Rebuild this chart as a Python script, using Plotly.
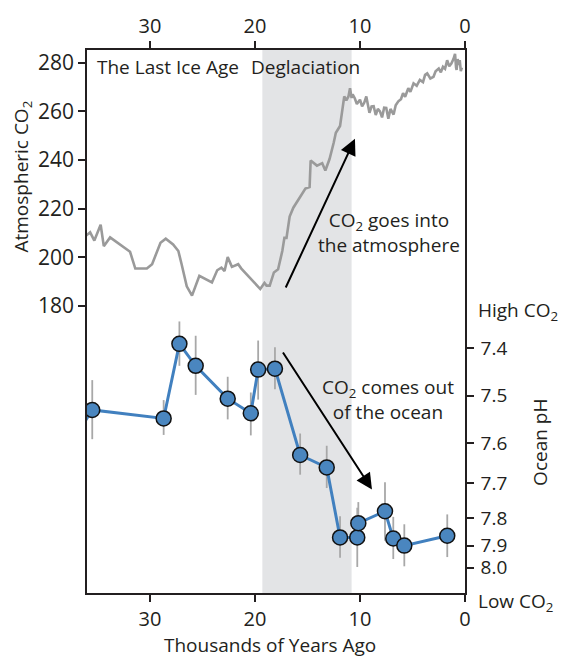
import numpy as np
import plotly.graph_objects as go

# ---------------- data ----------------
# Atmospheric CO2 record (thousands of years ago, ppm)
CO2_AGE = [36.1, 35.7, 35.3, 34.7, 34.4, 33.8, 31.9, 31.4, 30.3, 29.8, 29.0, 28.5, 27.8, 27.3,
           27.0, 26.5, 26.0, 25.3, 24.1, 23.6, 23.2, 22.9, 22.6, 22.2, 21.6, 21.3, 19.5, 19.1,
           18.9, 18.6, 18.2, 17.8, 17.4, 17.2, 17.0, 16.7, 16.35, 15.7, 15.2, 14.8, 14.7, 14.1,
           13.6, 13.3, 12.9, 12.5, 12.3, 11.9, 11.6, 11.5, 11.3, 11.1, 10.95, 10.8, 10.7, 10.5,
           10.3, 10.0, 9.8, 9.6, 9.4, 9.2, 9.1, 8.9, 8.7, 8.5, 8.3, 8.1, 7.9, 7.7, 7.5, 7.3,
           7.1, 6.8, 6.6, 6.35, 6.1, 5.9, 5.7, 5.4, 5.2, 4.9, 4.6, 4.3, 4.0, 3.8, 3.6, 3.3,
           3.0, 2.8, 2.5, 2.3, 2.1, 1.9, 1.7, 1.5, 1.3, 1.1, 0.95, 0.85, 0.8, 0.7, 0.6, 0.5,
           0.4, 0.3]
CO2_PPM = [208.9, 210.3, 206.9, 213.4, 204.6, 208.2, 202.3, 195.4, 195.4, 197.2, 206.0, 207.7,
           205.3, 202.6, 197.4, 188.1, 184.3, 192.4, 189.7, 194.7, 195.8, 194.4, 200.1, 196.1,
           197.2, 195.4, 187.0, 189.5, 188.4, 188.4, 193.8, 195.1, 202.6, 208.0, 208.0, 216.8,
           220.4, 224.9, 228.3, 228.9, 239.8, 237.7, 238.7, 235.7, 240.4, 247.2, 251.2, 254.0,
           262.1, 266.1, 264.5, 266.1, 269.5, 265.5, 267.0, 265.4, 263.0, 264.8, 262.0, 263.5,
           266.1, 261.5, 259.4, 262.0, 262.1, 258.5, 261.0, 260.0, 257.5, 261.5, 261.4, 257.0,
           261.0, 258.7, 262.5, 264.1, 265.0, 267.5, 266.0, 269.5, 268.0, 271.5, 270.5, 272.9,
           272.0, 275.0, 275.6, 273.5, 274.2, 276.5, 277.6, 276.0, 278.3, 277.5, 281.0, 278.5,
           279.6, 281.5, 283.6, 278.0, 277.0, 281.5, 279.0, 281.0, 276.5, 278.0]

# Ocean pH reconstruction (thousands of years ago, pH, error-bar ends)
PH_AGE = [37.5, 35.5, 28.7, 27.2, 25.65, 22.6, 20.4, 19.7, 18.1, 15.7, 13.17, 11.9, 10.26,
          10.16, 7.62, 6.83, 5.78, 1.69]
PH_VAL = [7.600, 7.530, 7.548, 7.391, 7.437, 7.506, 7.537, 7.445, 7.443, 7.630, 7.661, 7.870,
          7.870, 7.818, 7.780, 7.874, 7.900, 7.864]
PH_BAR_TOP = [7.600, 7.467, 7.509, 7.344, 7.374, 7.460, 7.493, 7.384, 7.398, 7.580, 7.607,
              7.794, 7.770, 7.754, 7.698, 7.796, 7.822, 7.789]
PH_BAR_BOT = [7.600, 7.592, 7.583, 7.437, 7.498, 7.550, 7.584, 7.508, 7.486, 7.679, 7.714,
              7.955, 7.997, 7.896, 7.882, 7.961, 7.994, 7.952]

AGE_TICKS = [30, 20, 10, 0]
CO2_TICKS = [180, 200, 220, 240, 260, 280]
PH_TICKS = [7.4, 7.5, 7.6, 7.7, 7.8, 7.9, 8.0]
PH_TICK_LABELS = ["7.4", "7.5", "7.6", "7.7", "7.8", "7.9", "8.0"]
DEGLACIATION = (19.3, 10.8)

# ---------------- pH axis scale (non-linear, as in the original figure) ----------------
_PH_NODES = [7.3] + PH_TICKS + [8.1]
_PH_POS = [-48.3, 0.0, 48.3, 96.0, 136.7, 172.3, 200.0, 222.3, 244.6]


def ph_scale(v):
    return np.interp(np.asarray(v, dtype=float), _PH_NODES, _PH_POS)


ph_s = ph_scale(PH_VAL)
err_plus = [float(v) for v in (ph_scale(PH_BAR_BOT) - ph_s)]
err_minus = [float(v) for v in (ph_s - ph_scale(PH_BAR_TOP))]
ph_s = [float(v) for v in ph_s]
ph_tickvals = [float(v) for v in ph_scale(PH_TICKS)]

INK = "#231f20"
FONT = "Open Sans"

fig = go.Figure()

# pH reconstruction: bottom age axis (x) + right pH axis (y)
fig.add_trace(go.Scatter(
    x=PH_AGE, y=ph_s, xaxis="x", yaxis="y", mode="lines+markers",
    line=dict(color="#4180bf", width=3),
    marker=dict(size=15, color="#4a86bf", line=dict(color="#111111", width=1.5)),
    error_y=dict(type="data", symmetric=False, array=err_plus, arrayminus=err_minus,
                 color="#a8a8a8", thickness=1.8, width=0),
    showlegend=False))

# CO2 record: top age axis (x2) + left CO2 axis (y2)
fig.add_trace(go.Scatter(
    x=CO2_AGE, y=CO2_PPM, xaxis="x2", yaxis="y2", mode="lines",
    line=dict(color="#9a9a9a", width=2.6), hoverinfo="skip", showlegend=False))


def axis_common(size):
    return dict(showgrid=False, zeroline=False, showline=True, linecolor=INK, linewidth=1.6,
                ticks="outside", tickcolor=INK, tickwidth=1.5, ticklen=7,
                tickfont=dict(family=FONT, size=size, color=INK))


fig.update_layout(
    width=561, height=660,
    margin=dict(l=87, r=96, t=43, b=67),
    paper_bgcolor="white", plot_bgcolor="white",
    font=dict(family=FONT, size=19, color=INK),
    xaxis=dict(range=[36, 0], tickvals=AGE_TICKS, side="bottom", anchor="y", **axis_common(20)),
    xaxis2=dict(range=[36, 0], tickvals=AGE_TICKS, overlaying="x", side="top", anchor="y2",
                **axis_common(20)),
    yaxis=dict(range=[248, -302], tickvals=ph_tickvals, ticktext=PH_TICK_LABELS,
               side="right", anchor="x", ticklabelstandoff=3, **axis_common(19)),
    yaxis2=dict(range=[62.1, 285.2], tickvals=CO2_TICKS, overlaying="y", side="left",
                anchor="x2", **axis_common(21)),
    shapes=[dict(type="rect", xref="x", yref="paper", x0=DEGLACIATION[0], x1=DEGLACIATION[1],
                 y0=0, y1=1, fillcolor="#e3e4e6", line=dict(width=0), layer="below")],
)

ann = []
ann.append(dict(text="Atmospheric CO<sub>2</sub>", xref="paper", yref="paper", x=-0.172, y=0.767,
                textangle=-90, showarrow=False, xanchor="center", yanchor="middle"))
ann.append(dict(text="Ocean pH", xref="paper", yref="paper", x=1.198, y=0.278,
                textangle=-90, showarrow=False, xanchor="center", yanchor="middle"))
ann.append(dict(text="Thousands of Years Ago", xref="paper", yref="paper", x=0.484, y=-0.095,
                showarrow=False, xanchor="center", yanchor="middle"))
ann.append(dict(text="High CO<sub>2</sub>", xref="paper", yref="paper", x=1.03, y=0.52,
                showarrow=False, xanchor="left", yanchor="middle"))
ann.append(dict(text="Low CO<sub>2</sub>", xref="paper", yref="paper", x=1.03, y=-0.016,
                showarrow=False, xanchor="left", yanchor="middle"))
ann.append(dict(text="The Last Ice Age", xref="paper", yref="paper", x=0.021, y=0.968,
                showarrow=False, xanchor="left", yanchor="middle"))
ann.append(dict(text="Deglaciation", xref="paper", yref="paper", x=0.428, y=0.968,
                showarrow=False, xanchor="left", yanchor="middle"))
ann.append(dict(text="CO<sub>2</sub> goes into<br>the atmosphere", xref="paper", yref="paper",
                x=0.80, y=0.664, showarrow=False, xanchor="center", yanchor="middle", align="center"))
ann.append(dict(text="CO<sub>2</sub> comes out<br>of the ocean", xref="paper", yref="paper",
                x=0.796, y=0.356, showarrow=False, xanchor="center", yanchor="middle", align="center"))
# arrows
ann.append(dict(x=10.48, y=248.7, xref="x2", yref="y2", ax=17.14, ay=187.0, axref="x2", ayref="y2",
                showarrow=True, arrowhead=2, arrowsize=1.6, arrowwidth=2, arrowcolor="black", text=""))
ann.append(dict(x=8.86, y=float(ph_scale(7.718)), xref="x", yref="y", ax=17.43,
                ay=float(ph_scale(7.406)), axref="x", ayref="y",
                showarrow=True, arrowhead=2, arrowsize=1.6, arrowwidth=2, arrowcolor="black", text=""))
fig.update_layout(annotations=ann)

fig.write_html("out.html", config={"displayModeBar": False},
               post_script="document.body.style.margin='0';")
